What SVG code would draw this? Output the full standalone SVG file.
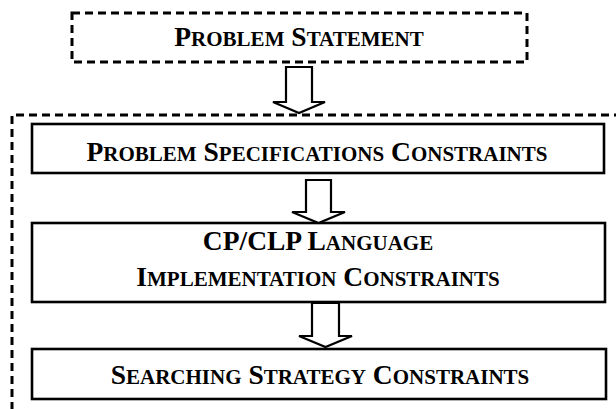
<svg xmlns="http://www.w3.org/2000/svg" width="616" height="409" viewBox="0 0 616 409">
<style>
.dash{fill:none;stroke:#000;stroke-width:3;stroke-dasharray:8 5}
.box{fill:#fff;stroke:#000;stroke-width:2.6}
.arr{fill:#fff;stroke:#000;stroke-width:2.2;stroke-linejoin:miter}
.t{font-family:"Liberation Serif","Times New Roman",serif;font-weight:bold;font-size:27.5px;fill:#000;text-anchor:middle}
.s{font-size:21px}
</style>
<rect width="616" height="409" fill="#fff"/>
<g id="problem-statement">
<rect class="dash" x="72" y="13" width="455" height="49"/>
<text class="t" x="299" y="46">P<tspan class="s">ROBLEM</tspan> S<tspan class="s">TATEMENT</tspan></text>
</g>
<g id="outer-group">
<path class="dash" d="M622,115 H12 V412"/>
</g>
<g id="problem-specifications">
<rect class="box" x="32" y="124" width="572" height="49"/>
<text class="t" x="317" y="160.5">P<tspan class="s">ROBLEM</tspan> S<tspan class="s">PECIFICATIONS</tspan> C<tspan class="s">ONSTRAINTS</tspan></text>
</g>
<g id="language-implementation">
<rect class="box" x="32" y="223" width="573" height="79"/>
<text class="t" x="318" y="250">CP/CLP L<tspan class="s">ANGUAGE</tspan></text>
<text class="t" x="318" y="286">I<tspan class="s">MPLEMENTATION</tspan> C<tspan class="s">ONSTRAINTS</tspan></text>
</g>
<g id="searching-strategy">
<rect class="box" x="32" y="349" width="574" height="50"/>
<text class="t" x="320" y="383.5">S<tspan class="s">EARCHING</tspan> S<tspan class="s">TRATEGY</tspan> C<tspan class="s">ONSTRAINTS</tspan></text>
</g>
<g id="connectors">
<path class="arr" d="M286,67 H312 V102 H325 L299,113 L273,102 H286 Z"/>
<path class="arr" d="M306,180 H331 V212 H345 L318.5,223 L292,212 H306 Z"/>
<path class="arr" d="M312,303 H339 V336 H352 L325.5,347 L299,336 H312 Z"/>
</g>
</svg>
